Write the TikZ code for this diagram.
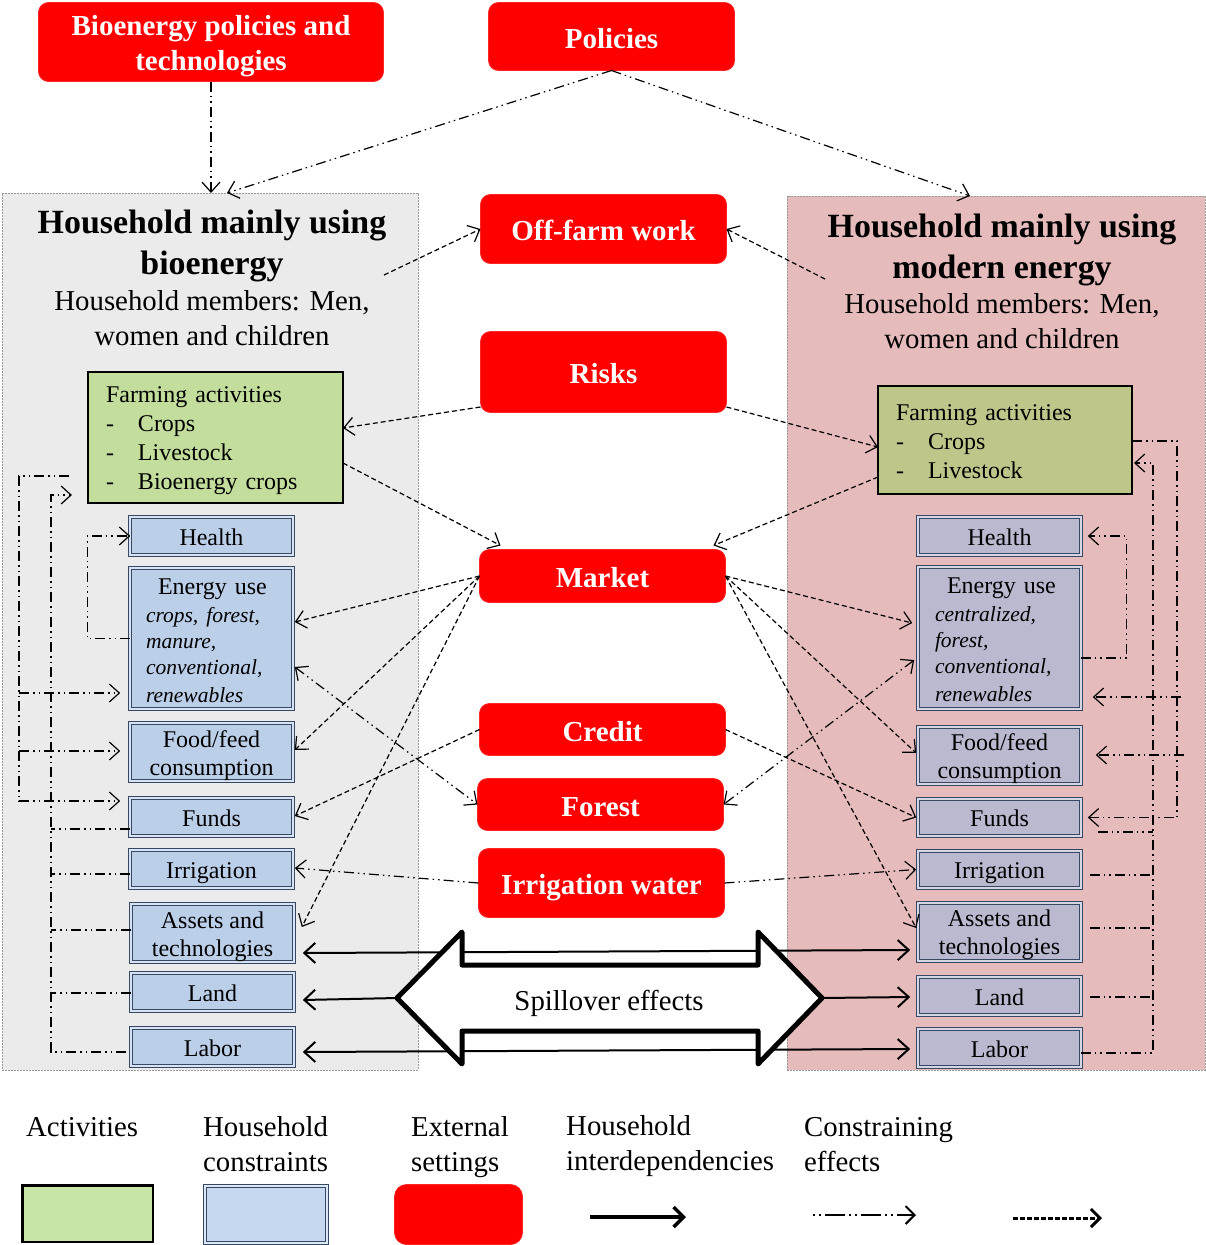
\documentclass[tikz,border=0pt]{standalone}
\usepackage{fontspec}
\setmainfont{Liberation Serif}
\usetikzlibrary{arrows.meta,calc}
\newcommand{\fz}[2]{\fontsize{#1}{#2}\selectfont}
\newcommand{\dn}[1]{\rule{0pt}{#1}}
\definecolor{lgray}{RGB}{235,235,235}
\definecolor{rpink}{RGB}{230,187,187}
\definecolor{greenL}{RGB}{194,221,156}
\definecolor{greenR}{RGB}{190,198,138}
\definecolor{blueL}{RGB}{188,207,233}
\definecolor{blueR}{RGB}{186,185,208}
\definecolor{bborder}{RGB}{55,72,100}
\definecolor{lgGreen}{RGB}{201,229,167}
\definecolor{lgBlue}{RGB}{198,217,240}
\begin{document}
\begin{tikzpicture}[x=1pt,y=-1pt,
  >={Straight Barb[length=10pt,width=18pt]},
  redbox/.style={fill=red, draw=red!85!white, line width=0.8pt, rounded corners=10pt, text=white,
     font=\bfseries\fz{29}{35}, align=center, inner sep=0pt, outer sep=0pt},
  redone/.style={redbox, text height=23pt, text depth=0pt},
  panel/.style={draw=gray!80, line width=0.8pt, dash pattern=on 2pt off 1pt, inner sep=0pt, outer sep=0pt, anchor=north west},
  actbox/.style={draw=black, line width=2pt, inner ysep=0pt, inner xsep=18pt, outer sep=0pt, align=left, font=\fz{24}{29}},
  bluebase/.style={draw=bborder, line width=1.2pt, double distance=2pt, inner sep=0pt, outer sep=0pt,
     font=\fz{24}{28}, align=center, minimum width=162.6pt},
  lblue/.style={bluebase, fill=blueL, double=blueL!60!white},
  rblue/.style={bluebase, fill=blueR, double=blueR!60!white},
  one/.style={text height=18.5pt, text depth=0pt},
  ext/.style={dash pattern=on 5pt off 3pt, line width=1.2pt, ->},
  con/.style={dash pattern=on 10pt off 4pt on 1.5pt off 4pt on 1.5pt off 4pt, line width=1.2pt},
  hh/.style={line width=2pt, >={Straight Barb[length=11pt,width=20pt]}},
  txt/.style={font=\fz{28.8}{35}, inner sep=0pt}
]
\useasboundingbox (0,0) rectangle (1205,1245);

% ---------- panels ----------
\node[panel, fill=lgray, minimum width=416pt, minimum height=877pt] (lpanel) at (2,193) {};
\node[panel, fill=rpink, minimum width=418pt, minimum height=874pt] (rpanel) at (787,196) {};

% ---------- panel titles ----------
\node[font=\bfseries\fz{33.9}{41}, align=center, inner sep=0pt] (ltitle) at (212,246) {Household mainly using\\bioenergy};
\node[txt, align=center] (lmem) at (212,318) {Household members: Men,\\women and children};
\node[font=\bfseries\fz{33.9}{41}, align=center, inner sep=0pt] (rtitle) at (1002,250) {Household mainly using\\modern energy};
\node[txt, align=center] (rmem) at (1002,321.5) {Household members: Men,\\women and children};

% ---------- external settings ----------
\node[redbox, minimum width=345pt, minimum height=79pt] (bio) at (211,42) {\dn{28pt}Bioenergy policies and\\technologies};
\node[redone, minimum width=246pt, minimum height=68pt] (pol) at (611.5,36.5) {Policies};
\node[redone, minimum width=246pt, minimum height=69pt] (off) at (603.5,229) {Off-farm work};
\node[redone, minimum width=246pt, minimum height=81pt] (risk) at (603.5,372) {Risks};
\node[redone, minimum width=246pt, minimum height=53pt] (mkt) at (602.5,576) {Market};
\node[redone, minimum width=246pt, minimum height=52pt] (cred) at (602.5,729.5) {Credit};
\node[redone, minimum width=246pt, minimum height=52pt] (forest) at (600.5,804.5) {Forest};
\node[redone, minimum width=246pt, minimum height=69pt] (irrw) at (601.5,883) {Irrigation water};

% ---------- activities ----------
\node[actbox, fill=greenL, minimum width=255pt, minimum height=131pt, text width=219pt] (lfarm) at (215.5,437.5)
  {\dn{21.4pt}Farming activities\\\makebox[32pt][l]{-}Crops\\\makebox[32pt][l]{-}Livestock\\\makebox[32pt][l]{-}Bioenergy crops};
\node[actbox, fill=greenR, minimum width=254pt, minimum height=108pt, text width=218pt] (rfarm) at (1005,440)
  {\dn{18.4pt}Farming activities\\\makebox[32pt][l]{-}Crops\\\makebox[32pt][l]{-}Livestock};

% ---------- left constraints ----------
\node[lblue, one, minimum height=37.6pt] (lhealth) at (211.5,536) {Health};
\node[lblue, minimum height=140.6pt, text width=131pt, align=left, inner xsep=15.8pt] (lenergy) at (211.5,638.5)
  {\fz{24}{28}\dn{20pt}\hspace*{12pt}Energy use\\[2pt]\fz{21.5}{26}\itshape crops, forest,\\manure,\\conventional,\\renewables};
\node[lblue, minimum height=57.6pt] (lfood) at (211.5,752) {\dn{24pt}Food/feed\\consumption};
\node[lblue, one, minimum height=37.6pt] (lfunds) at (211.5,817) {Funds};
\node[lblue, one, minimum height=37.6pt] (lirr) at (211.5,869) {Irrigation};
\node[lblue, minimum height=57.6pt] (lassets) at (212.5,933) {\dn{23.5pt}Assets and\\technologies};
\node[lblue, one, minimum height=37.6pt] (lland) at (212.5,992) {Land};
\node[lblue, one, minimum height=37.6pt] (llabor) at (212.5,1047) {Labor};

% ---------- right constraints ----------
\node[rblue, one, minimum height=37.6pt] (rhealth) at (999.5,536) {Health};
\node[rblue, minimum height=141.6pt, text width=129pt, align=left, inner xsep=16.8pt] (renergy) at (999.5,638)
  {\fz{24}{28}\dn{20pt}\hspace*{12pt}Energy use\\[2pt]\fz{21.5}{26}\itshape centralized,\\forest,\\conventional,\\renewables};
\node[rblue, minimum height=56.6pt] (rfood) at (999.5,755.5) {\dn{23pt}Food/feed\\consumption};
\node[rblue, one, minimum height=36.6pt] (rfunds) at (999.5,817.5) {Funds};
\node[rblue, one, minimum height=36.6pt] (rirr) at (999.5,869.5) {Irrigation};
\node[rblue, minimum height=57.6pt] (rassets) at (999.5,932) {\dn{23pt}Assets and\\technologies};
\node[rblue, one, minimum height=37.6pt] (rland) at (999.5,996) {Land};
\node[rblue, one, minimum height=37.6pt] (rlabor) at (999.5,1048) {Labor};

% ---------- policy arrows ----------
\draw[con,->] (bio.south) -- (bio.south |- lpanel.north);
\draw[con,->] (pol.south) -- ([xshift=17pt]lpanel.north);
\draw[con,->] (pol.south) -- ([xshift=-26pt]rpanel.north);

% ---------- external (dashed) ----------
\coordinate (lhh) at (384,275);
\coordinate (rhh) at (825,279);
\draw[ext] (lhh) -- (off.west);
\draw[ext] (rhh) -- (off.east);
\draw[ext] ([yshift=-35pt]risk.west) -- ([yshift=9.5pt]lfarm.east);
\draw[ext] ([yshift=-35pt]risk.east) -- ([yshift=-7pt]rfarm.west);
\draw[ext] ([yshift=-25.5pt]lfarm.east) -- ([xshift=21pt,yshift=4pt]mkt.north west);
\draw[ext] ([yshift=-37pt]rfarm.west) -- ([xshift=-12pt,yshift=4pt]mkt.north east);
\draw[ext] (mkt.west) -- ([xshift=2pt,yshift=16.5pt]lenergy.east);
\draw[ext] (mkt.west) -- ([xshift=2pt,yshift=2pt]lfood.east);
\draw[ext] (mkt.west) -- ([xshift=8pt,yshift=6pt]lassets.east);
\draw[ext] (cred.west) -- ([xshift=2pt,yshift=1pt]lfunds.east);
\draw[ext] (mkt.east) -- ([xshift=-6pt,yshift=15pt]renergy.west);
\draw[ext] (mkt.east) -- ([xshift=-2pt,yshift=2.5pt]rfood.west);
\draw[ext] (mkt.east) -- ([xshift=-2pt,yshift=4pt]rassets.west);
\draw[ext] (cred.east) -- ([xshift=-2pt]rfunds.west);

% ---------- constraining (dash-dot) to external ----------
\draw[con,<->] ([xshift=2pt,yshift=-28.5pt]lenergy.east) -- (forest.west);
\draw[con,<->] ([xshift=-4pt,yshift=-22pt]renergy.west) -- (forest.east);
\draw[con,->] (irrw.west) -- ([xshift=2pt,yshift=1pt]lirr.east);
\draw[con,->] (irrw.east) -- ([xshift=-2pt]rirr.west);

% ---------- left internal constraints ----------
\coordinate (lfo) at ([xshift=-19pt,yshift=-38.5pt]lfarm.west);
\coordinate (lbusA) at (19,476);
\draw[con,->] (lfo) -- (lbusA) |- ([xshift=-10pt,yshift=16pt]lfunds.west);
\coordinate (tE) at ([xshift=-10pt,yshift=-54.5pt]lenergy.west);
\coordinate (tF) at ([xshift=-10pt,yshift=1pt]lfood.west);
\draw[con,->] (tE -| lbusA) -- (tE);
\draw[con,->] (tF -| lbusA) -- (tF);
\coordinate (lfi) at ([xshift=-16pt,yshift=-57.5pt]lfarm.west);
\coordinate (lbusB) at (51,495);
\draw[con,->] ([xshift=-5pt,yshift=-5pt]llabor.west) -| (lbusB) -- (lfi);
\foreach \n/\d in {lfunds/-12, lirr/-5, lassets/3, lland/-1}{
  \coordinate (tmp) at ([yshift=\d pt]\n.west);
  \draw[con] (tmp) -- (tmp -| lbusB);
}
\draw[con,->] (lenergy.west) -- ++(-43,0) |- (lhealth.west);

% ---------- right internal constraints ----------
\draw[con,->] ([yshift=-20pt]renergy.east) -- ++(46,0) |- ([xshift=7pt]rhealth.east);
\coordinate (rbusA) at (1177,441);
\draw[con,->] ([yshift=-1pt]rfarm.east) -- (rbusA) |- ([xshift=7pt]rfunds.east);
\coordinate (tRE) at ([xshift=12pt,yshift=-59pt]renergy.east);
\coordinate (tRF) at ([xshift=15pt,yshift=0.5pt]rfood.east);
\draw[con,->] ([xshift=4pt]tRE -| rbusA) -- (tRE);
\draw[con,->] ([xshift=7pt]tRF -| rbusA) -- (tRF);
\coordinate (rfi) at ([xshift=2pt,yshift=-23pt]rfarm.east);
\coordinate (rbusB) at (1153,463);
\draw[con,->] ([yshift=-5pt]rlabor.east) -| (rbusB) -- (rfi);
\foreach \n/\d/\s in {rfunds/-14.5/17, rirr/-5.5/9, rassets/4/9, rland/-1/9}{
  \coordinate (tmp) at ([xshift=\s pt,yshift=\d pt]\n.east);
  \draw[con] (tmp) -- (tmp -| rbusB);
}

% ---------- spillover ----------
\coordinate (spL) at (397,998);
\coordinate (spR) at (822,998);
\draw[hh,<->] ([xshift=9pt,yshift=-20pt]lassets.east) -- ([xshift=-8pt,yshift=-18pt]rassets.west);
\draw[hh,->] (spL) -- ([xshift=9pt,yshift=-8pt]lland.east);
\draw[hh,->] (spR) -- ([xshift=-8pt,yshift=-1pt]rland.west);
\draw[hh,<->] ([xshift=9pt,yshift=-5pt]llabor.east) -- ([xshift=-8pt,yshift=-1pt]rlabor.west);
\draw[line width=5pt, fill=white, line join=round]
  (spL) -- (462,932) -- (462,965) -- (758,965) -- (758,932) -- (spR) -- (758,1064) -- (758,1031) -- (462,1031) -- (462,1064) -- cycle;
\node[txt] (spill) at (609,1003) {Spillover effects};

% ---------- legend ----------
\node[txt, anchor=west] (lgt1) at (26,1127) {Activities};
\node[txt, anchor=west, align=left] (lgt2) at (203,1144.5) {Household\\constraints};
\node[txt, anchor=west, align=left] (lgt3) at (411,1147) {External\\settings};
\node[txt, anchor=west, align=left] (lgt4) at (566,1146.5) {Household\\interdependencies};
\node[txt, anchor=west, align=left] (lgt5) at (804,1145) {Constraining\\effects};
\node[draw=black, line width=2.5pt, fill=lgGreen, minimum width=130.5pt, minimum height=56.5pt, inner sep=0pt] (lgact) at (87.5,1213.5) {};
\node[bluebase, fill=lgBlue, double=lgBlue!60!white, minimum width=121.6pt, minimum height=56.6pt] (lgcon) at (266,1214.5) {};
\node[redbox, rounded corners=12pt, minimum width=128pt, minimum height=60pt] (lgext) at (458.5,1214.5) {};
\coordinate (la1) at (590,1217); \coordinate (la2) at (686,1217);
\draw[line width=3.5pt, -{Straight Barb[length=10pt,width=20pt]}] (la1) -- (la2);
\coordinate (lb1) at (813,1215); \coordinate (lb2) at (916,1215);
\draw[line width=2pt, dash pattern=on 2pt off 4pt on 2pt off 4pt on 20pt off 4pt, -{Straight Barb[length=9pt,width=18pt]}] (lb1) -- (lb2);
\coordinate (lc1) at (1013,1218); \coordinate (lc2) at (1102,1218);
\draw[line width=3pt, dash pattern=on 5pt off 2pt, -{Straight Barb[length=9pt,width=18pt]}] (lc1) -- (lc2);
\end{tikzpicture}
\end{document}
